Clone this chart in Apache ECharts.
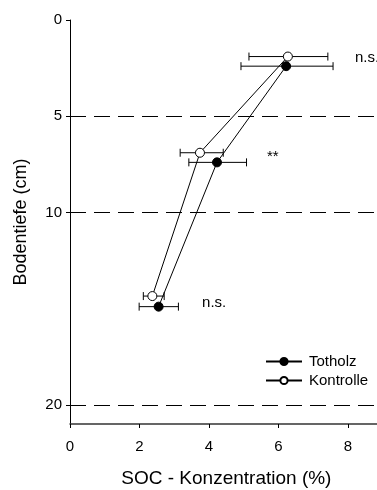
<!DOCTYPE html>
<html>
<head>
<meta charset="utf-8">
<script src="https://cdn.jsdelivr.net/npm/echarts@6/dist/echarts.min.js"></script>
<style>
html,body{margin:0;padding:0;background:#fff;}
#c{width:377px;height:490px;}
</style>
</head>
<body>
<div id="c"></div>
<script>
const seriesNames = ['Totholz', 'Kontrolle'];
const depthTot = [2.4, 7.4, 14.9];
const socTot = [6.22, 4.23, 2.55];
const socTotLo = [4.92, 3.42, 1.99];
const socTotHi = [7.57, 5.08, 3.12];
const depthKon = [1.9, 6.9, 14.35];
const socKon = [6.27, 3.74, 2.37];
const socKonLo = [5.15, 3.17, 2.11];
const socKonHi = [7.42, 4.41, 2.71];
const yTicks = [0, 5, 10, 20];
const refLines = [5, 10, 20];
const annotText = ['n.s.', '**', 'n.s.'];
const annotX = [8.2, 5.67, 3.8];
const annotY = [1.97, 7.1, 14.7];

const FONT = '"Liberation Sans", Arial, sans-serif';

function errData(lo, hi, d) {
  return lo.map((v, i) => [v, hi[i], d[i]]);
}
function errRender(params, api) {
  const a = api.coord([api.value(0), api.value(2)]);
  const b = api.coord([api.value(1), api.value(2)]);
  const cap = 4;
  const st = { stroke: '#000', lineWidth: 1 };
  return {
    type: 'group',
    children: [
      { type: 'line', shape: { x1: a[0], y1: a[1], x2: b[0], y2: b[1] }, style: st },
      { type: 'line', shape: { x1: a[0], y1: a[1] - cap, x2: a[0], y2: a[1] + cap }, style: st },
      { type: 'line', shape: { x1: b[0], y1: b[1] - cap, x2: b[0], y2: b[1] + cap }, style: st }
    ]
  };
}
function textRender(params, api) {
  const p = api.coord([api.value(0), api.value(1)]);
  return {
    type: 'text',
    x: p[0], y: p[1],
    style: {
      text: annotText[params.dataIndex],
      fill: '#000',
      font: '15px ' + FONT,
      align: 'left',
      verticalAlign: 'middle'
    }
  };
}

const chart = echarts.init(document.getElementById('c'), null, { renderer: 'canvas' });
chart.setOption({
  animation: false,
  backgroundColor: '#fff',
  textStyle: { fontFamily: FONT },
  grid: { left: 70, top: 20, width: 312.75, height: 404, containLabel: false, outerBoundsMode: 'none' },
  legend: {
    orient: 'vertical',
    left: 265,
    top: 354,
    padding: 0,
    itemWidth: 36,
    itemHeight: 9,
    itemGap: 4,
    textStyle: { fontFamily: FONT, fontSize: 15, color: '#000', padding: [0, 0, 0, 2] },
    data: seriesNames
  },
  xAxis: {
    type: 'value',
    position: 'bottom',
    min: 0, max: 9, interval: 2,
    name: 'SOC - Konzentration (%)',
    nameLocation: 'middle',
    nameGap: 45,
    nameTextStyle: { fontFamily: FONT, fontSize: 19, color: '#000' },
    axisLine: { onZero: false, lineStyle: { color: '#333', width: 1.5 } },
    axisTick: { inside: false, length: 4, lineStyle: { color: '#000' } },
    axisLabel: { margin: 15, fontFamily: FONT, fontSize: 15, color: '#000', showMaxLabel: false },
    splitLine: { show: false }
  },
  yAxis: {
    type: 'value',
    inverse: true,
    min: 0, max: 21, interval: 5,
    name: 'Bodentiefe (cm)',
    nameLocation: 'middle',
    nameGap: 40,
    nameRotate: 90,
    nameTextStyle: { fontFamily: FONT, fontSize: 18, color: '#000' },
    axisLine: { show: true, onZero: false, lineStyle: { color: '#000', width: 1 } },
    axisTick: { show: true, length: 4, customValues: yTicks, lineStyle: { color: '#000' } },
    axisLabel: { margin: 8, fontFamily: FONT, fontSize: 15, color: '#000', customValues: yTicks },
    splitLine: { show: false }
  },
  series: [
    {
      type: 'custom',
      name: 'errTot',
      renderItem: errRender,
      data: errData(socTotLo, socTotHi, depthTot),
      encode: { x: [0, 1], y: 2 },
      z: 2,
      silent: true
    },
    {
      type: 'custom',
      name: 'errKon',
      renderItem: errRender,
      data: errData(socKonLo, socKonHi, depthKon),
      encode: { x: [0, 1], y: 2 },
      z: 2,
      silent: true
    },
    {
      type: 'line',
      name: 'Totholz',
      data: socTot.map((v, i) => [v, depthTot[i]]),
      symbol: 'circle',
      symbolSize: 9,
      showAllSymbol: true,
      lineStyle: { color: '#000', width: 1 },
      itemStyle: { color: '#000', borderColor: '#000', borderWidth: 1 },
      z: 5,
      markLine: {
        silent: true,
        symbol: ['none', 'none'],
        label: { show: false },
        lineStyle: { color: '#000', width: 1, type: [16, 8] },
        data: refLines.map(v => ({ yAxis: v }))
      }
    },
    {
      type: 'line',
      name: 'Kontrolle',
      data: socKon.map((v, i) => [v, depthKon[i]]),
      symbol: 'circle',
      symbolSize: 9,
      showAllSymbol: true,
      lineStyle: { color: '#000', width: 1 },
      itemStyle: { color: '#fff', borderColor: '#000', borderWidth: 1 },
      z: 5
    },
    {
      type: 'custom',
      name: 'annot',
      renderItem: textRender,
      data: annotX.map((x, i) => [x, annotY[i]]),
      encode: { x: 0, y: 1 },
      silent: true,
      z: 6
    }
  ]
});
</script>
</body>
</html>
